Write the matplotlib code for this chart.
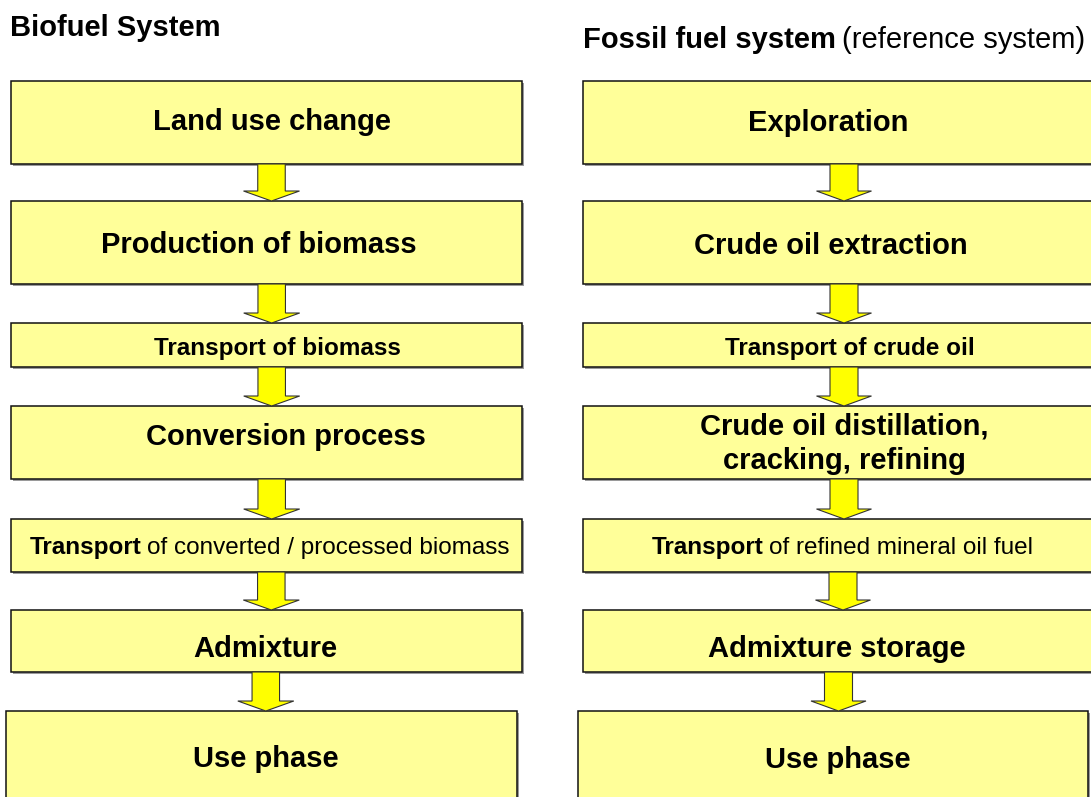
import matplotlib
matplotlib.use("Agg")
import matplotlib.pyplot as plt
from matplotlib.patches import Rectangle, FancyArrow

plt.rcParams['font.family'] = ['Liberation Sans', 'DejaVu Sans']

# ---- content ----
left_title = "Biofuel System"
right_title_bold = "Fossil fuel system"
right_title_rest = " (reference system)"

left_labels = ["Land use change", "Production of biomass", "Transport of biomass",
               "Conversion process", "Transport of converted / processed biomass",
               "Admixture", "Use phase"]
left_bold = ["Land use change", "Production of biomass", "Transport of biomass",
             "Conversion process", "Transport", "Admixture", "Use phase"]

right_labels = ["Exploration", "Crude oil extraction", "Transport of crude oil",
                "Crude oil distillation,\ncracking, refining",
                "Transport of refined mineral oil fuel",
                "Admixture storage", "Use phase"]
right_bold = ["Exploration", "Crude oil extraction", "Transport of crude oil",
              "Crude oil distillation,\ncracking, refining", "Transport",
              "Admixture storage", "Use phase"]

# ---- layout (pixels) ----
W, H = 1091, 797
box_top = [81, 201, 323, 406, 519, 610, 711]
box_bottom = [164, 284, 367, 479, 572, 672, 812]
left_box_x = [(11, 522)] * 6 + [(6, 517)]
right_box_x = [(583, 1100)] * 6 + [(578, 1088)]
font_sizes = [21, 21, 17.5, 21, 17.5, 21, 21]
left_base = [130, 253, 355, 445, 554, 657, 767]
right_base = [131, 254, 355, 434, 554, 657, 768]
left_tx = [272, 259, 277, 286, 30, 265.5, 266]
right_tx = [828.6, 831, 849.6, 844, 652, 837, 837.5]
left_arrow_x = [271.5, 271.7, 271.7, 271.7, 271.3, 265.8]
right_arrow_x = [844, 844, 844, 844, 843, 838.5]

BOX_FC = '#FFFF99'
ARROW_FC = '#FFFF00'

fig = plt.figure(figsize=(W / 100, H / 100), dpi=100)
ax = fig.add_axes([0, 0, 1, 1])
ax.set_xlim(0, W)
ax.set_ylim(H, 0)
ax.axis('off')
renderer = fig.canvas.get_renderer()


def mixed_text(x, base, bold, rest, fs, zorder=5):
    """Bold prefix followed by regular text on the same baseline."""
    t1 = ax.text(x, base, bold, fontsize=fs, fontweight='bold',
                 ha='left', va='baseline', zorder=zorder)
    ext = t1.get_window_extent(renderer=renderer)
    x1 = ax.transData.inverted().transform((ext.x1, ext.y0))[0]
    lead = len(rest) - len(rest.lstrip(' '))
    space_px = 0.278 * fs * 100 / 72
    ax.text(x1 + lead * space_px - 1.5, base, rest.lstrip(' '), fontsize=fs,
            ha='left', va='baseline', zorder=zorder)


def draw_column(labels, bolds, box_x, bases, txs, arrow_x, shaft_w, head_w):
    for i in range(len(labels)):
        x0, x1 = box_x[i]
        y0, y1 = box_top[i], box_bottom[i]
        ax.add_patch(Rectangle((x0 + 1.5, y0 + 1.5), x1 - x0, y1 - y0,
                               facecolor='#9a9a9a', edgecolor='none', zorder=1))
        ax.add_patch(Rectangle((x0, y0), x1 - x0, y1 - y0, facecolor=BOX_FC,
                               edgecolor='#111111', linewidth=1.1, zorder=2))
    for i in range(len(labels)):
        base = bases[i]
        lab = labels[i]
        if '\n' in lab:
            for j, ln in enumerate(lab.split('\n')):
                ax.text(txs[i], base + j * 35, ln, fontsize=font_sizes[i],
                        fontweight='bold', ha='center', va='baseline', zorder=5)
        elif len(bolds[i]) < len(lab):
            mixed_text(txs[i], base, bolds[i], lab[len(bolds[i]):], font_sizes[i])
        else:
            ax.text(txs[i], base, lab, fontsize=font_sizes[i], fontweight='bold',
                    ha='center', va='baseline', zorder=5)
    for i in range(len(labels) - 1):
        ys = box_bottom[i]
        ye = box_top[i + 1]
        ax.add_patch(FancyArrow(arrow_x[i], ys, 0, ye - ys, width=shaft_w,
                                head_width=head_w, head_length=10,
                                length_includes_head=True, facecolor=ARROW_FC,
                                edgecolor='#333333', linewidth=0.8, zorder=3))


draw_column(left_labels, left_bold, left_box_x, left_base, left_tx,
            left_arrow_x, 27.5, 56)
draw_column(right_labels, right_bold, right_box_x, right_base, right_tx,
            right_arrow_x, 28, 55)

# titles
ax.text(10, 36, left_title, fontsize=21, fontweight='bold', ha='left', va='baseline')
mixed_text(583, 48, right_title_bold, right_title_rest, 21)

fig.savefig('out.png', dpi=100, facecolor='white')
